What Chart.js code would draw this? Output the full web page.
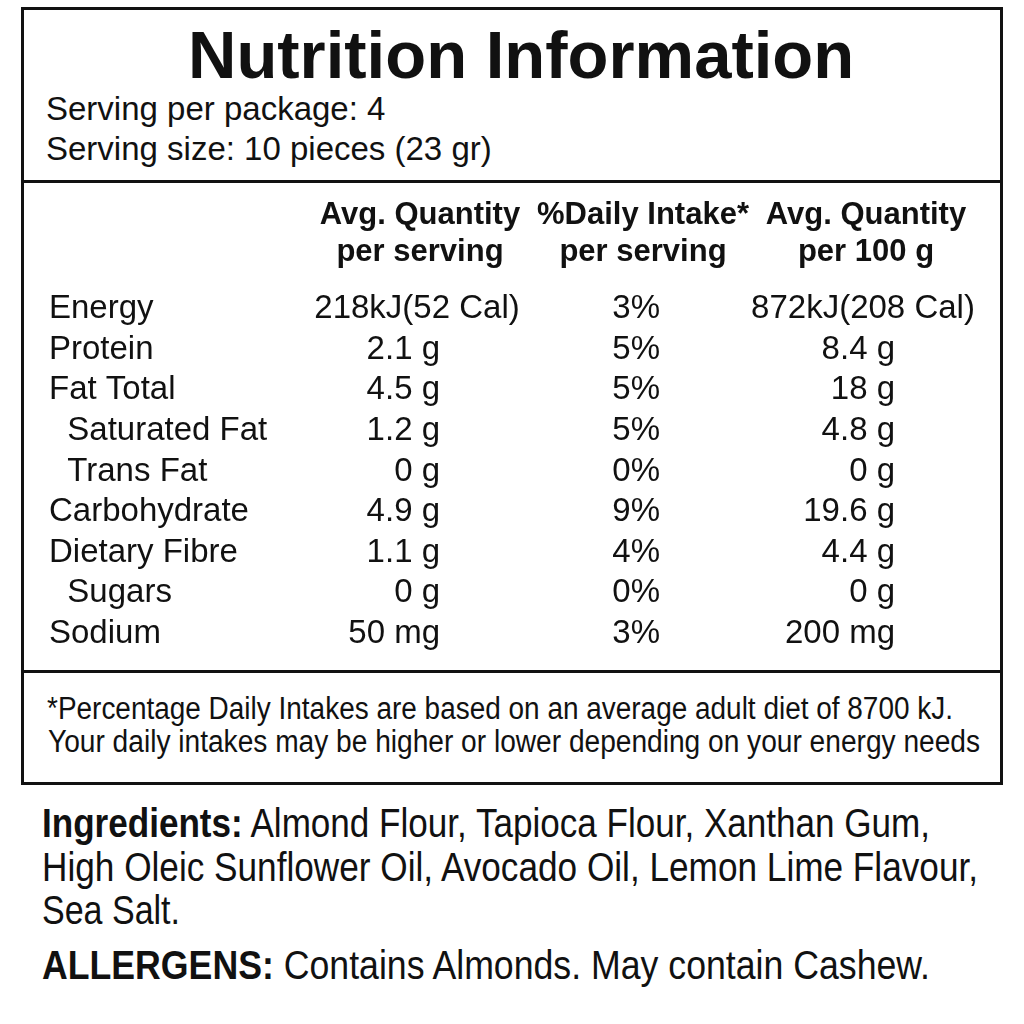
<!DOCTYPE html>
<html>
<head>
<meta charset="utf-8">
<script src="https://cdn.jsdelivr.net/npm/chart.js@4.4.1/dist/chart.umd.min.js"></script>
<style>
  body { margin: 0; background: #fff; width: 1024px; height: 1024px; position: relative; overflow: hidden; color: #111; font-family: "Liberation Sans", Arial, sans-serif; }
  .box { position: absolute; left: 21px; top: 7px; width: 982px; height: 778px; border: 3px solid #111; box-sizing: border-box; }
  .rule { position: absolute; left: 21px; width: 982px; height: 3px; background: #111; }
  .t { position: absolute; white-space: nowrap; line-height: 1; }
  .narrow { font-family: "Liberation Sans Narrow", "Liberation Sans", sans-serif; transform-origin: 0 50%; display: inline-block; }
  #table { position: absolute; left: 22px; top: 184px; }
</style>
</head>
<body>
<div class="box"></div>
<div class="rule" style="top:670px"></div>
<div class="rule" style="top:180px"></div>

<div class="t" style="left:188px; top:21px; font-size:67px; font-weight:bold;">Nutrition Information</div>
<div class="t" style="left:46px; top:92px; font-size:33px;">Serving per package: 4</div>
<div class="t" style="left:46px; top:132px; font-size:33px;">Serving size: 10 pieces (23 gr)</div>

<canvas id="table" width="980" height="493"></canvas>

<div class="t narrow" data-w="906" style="left:47px; top:693px; font-size:31px;">*Percentage Daily Intakes are based on an average adult diet of 8700 kJ.</div>
<div class="t narrow" data-w="932" style="left:48px; top:726px; font-size:31px;">Your daily intakes may be higher or lower depending on your energy needs</div>

<div class="t narrow" data-w="888" style="left:42px; top:803px; font-size:40px;"><b>Ingredients:</b> Almond Flour, Tapioca Flour, Xanthan Gum,</div>
<div class="t narrow" data-w="936" style="left:42px; top:847px; font-size:40px;">High Oleic Sunflower Oil, Avocado Oil, Lemon Lime Flavour,</div>
<div class="t narrow" data-w="138" style="left:42px; top:890px; font-size:40px;">Sea Salt.</div>
<div class="t narrow" data-w="888" style="left:42px; top:945px; font-size:40px;"><b>ALLERGENS:</b> Contains Almonds. May contain Cashew.</div>

<script>
// squeeze the condensed lines to their width on the label
document.querySelectorAll(".narrow").forEach((el) => {
  const w = el.getBoundingClientRect().width;
  el.style.transform = "scaleX(" + Number(el.dataset.w) / w + ")";
});

const nutrients = ["Energy", "Protein", "Fat Total", "Saturated Fat", "Trans Fat", "Carbohydrate", "Dietary Fibre", "Sugars", "Sodium"];
const subItems = ["Saturated Fat", "Trans Fat", "Sugars"];
const headTop = ["Avg. Quantity", "%Daily Intake*", "Avg. Quantity"];
const headBottom = ["per serving", "per serving", "per 100 g"];
const perServing = ["218kJ(52 Cal)", "2.1 g", "4.5 g", "1.2 g", "0 g", "4.9 g", "1.1 g", "0 g", "50 mg"];
const dailyIntake = ["3%", "5%", "5%", "5%", "0%", "9%", "4%", "0%", "3%"];
const per100g = ["872kJ(208 Cal)", "8.4 g", "18 g", "4.8 g", "0 g", "19.6 g", "4.4 g", "0 g", "200 mg"];

const columns = [perServing, dailyIntake, per100g];
const colKeys = headTop.map((t, i) => t + " " + headBottom[i]);
const rightPad = [20, 17, 29];

// writes each cell's text where its point sits on the two category scales
const cellText = {
  id: "cellText",
  afterDatasetsDraw(chart) {
    const ctx = chart.ctx;
    ctx.save();
    ctx.font = '33px "Liberation Sans", Arial, sans-serif';
    ctx.fillStyle = "#111";
    ctx.textBaseline = "middle";
    chart.data.datasets.forEach((ds, c) => {
      chart.getDatasetMeta(c).data.forEach((pt, r) => {
        const txt = columns[c][r];
        if (txt.includes("kJ")) {
          ctx.textAlign = "center";
          ctx.fillText(txt, pt.x - 3, pt.y);
        } else {
          ctx.textAlign = "right";
          ctx.fillText(txt, pt.x + rightPad[c], pt.y);
        }
      });
    });
    ctx.restore();
  },
};

new Chart(document.getElementById("table"), {
  type: "scatter",
  data: {
    datasets: columns.map((vals, c) => ({
      label: colKeys[c],
      data: nutrients.map((n) => ({ x: colKeys[c], y: n })),
      pointRadius: 0,
      pointHoverRadius: 0,
    })),
  },
  options: {
    responsive: false,
    animation: false,
    events: [],
    layout: { autoPadding: false, padding: { left: 27, right: 24.5, top: 0, bottom: 18.7 } },
    plugins: { legend: { display: false }, tooltip: { enabled: false } },
    scales: {
      x: {
        type: "category",
        labels: colKeys,
        position: "top",
        offset: true,
        grid: { display: false },
        border: { display: false },
        ticks: {
          maxRotation: 0,
          autoSkip: false,
          padding: 10.2,
          color: "#111",
          font: { family: '"Liberation Sans", Arial, sans-serif', size: 31, weight: "bold", lineHeight: "37px" },
          callback: (v, i) => [headTop[i], headBottom[i]],
        },
        afterFit: (s) => { s.height = 104.7; },
      },
      y: {
        type: "category",
        labels: nutrients,
        offset: true,
        grid: { display: false },
        border: { display: false },
        ticks: {
          autoSkip: false,
          crossAlign: "far",
          color: "#111",
          font: { family: '"Liberation Sans", Arial, sans-serif', size: 33 },
          callback: (v, i) => (subItems.includes(nutrients[i]) ? "  " + nutrients[i] : nutrients[i]),
        },
        afterFit: (s) => { s.width = 259.5; },
      },
    },
  },
  plugins: [cellText],
});
</script>
</body>
</html>
